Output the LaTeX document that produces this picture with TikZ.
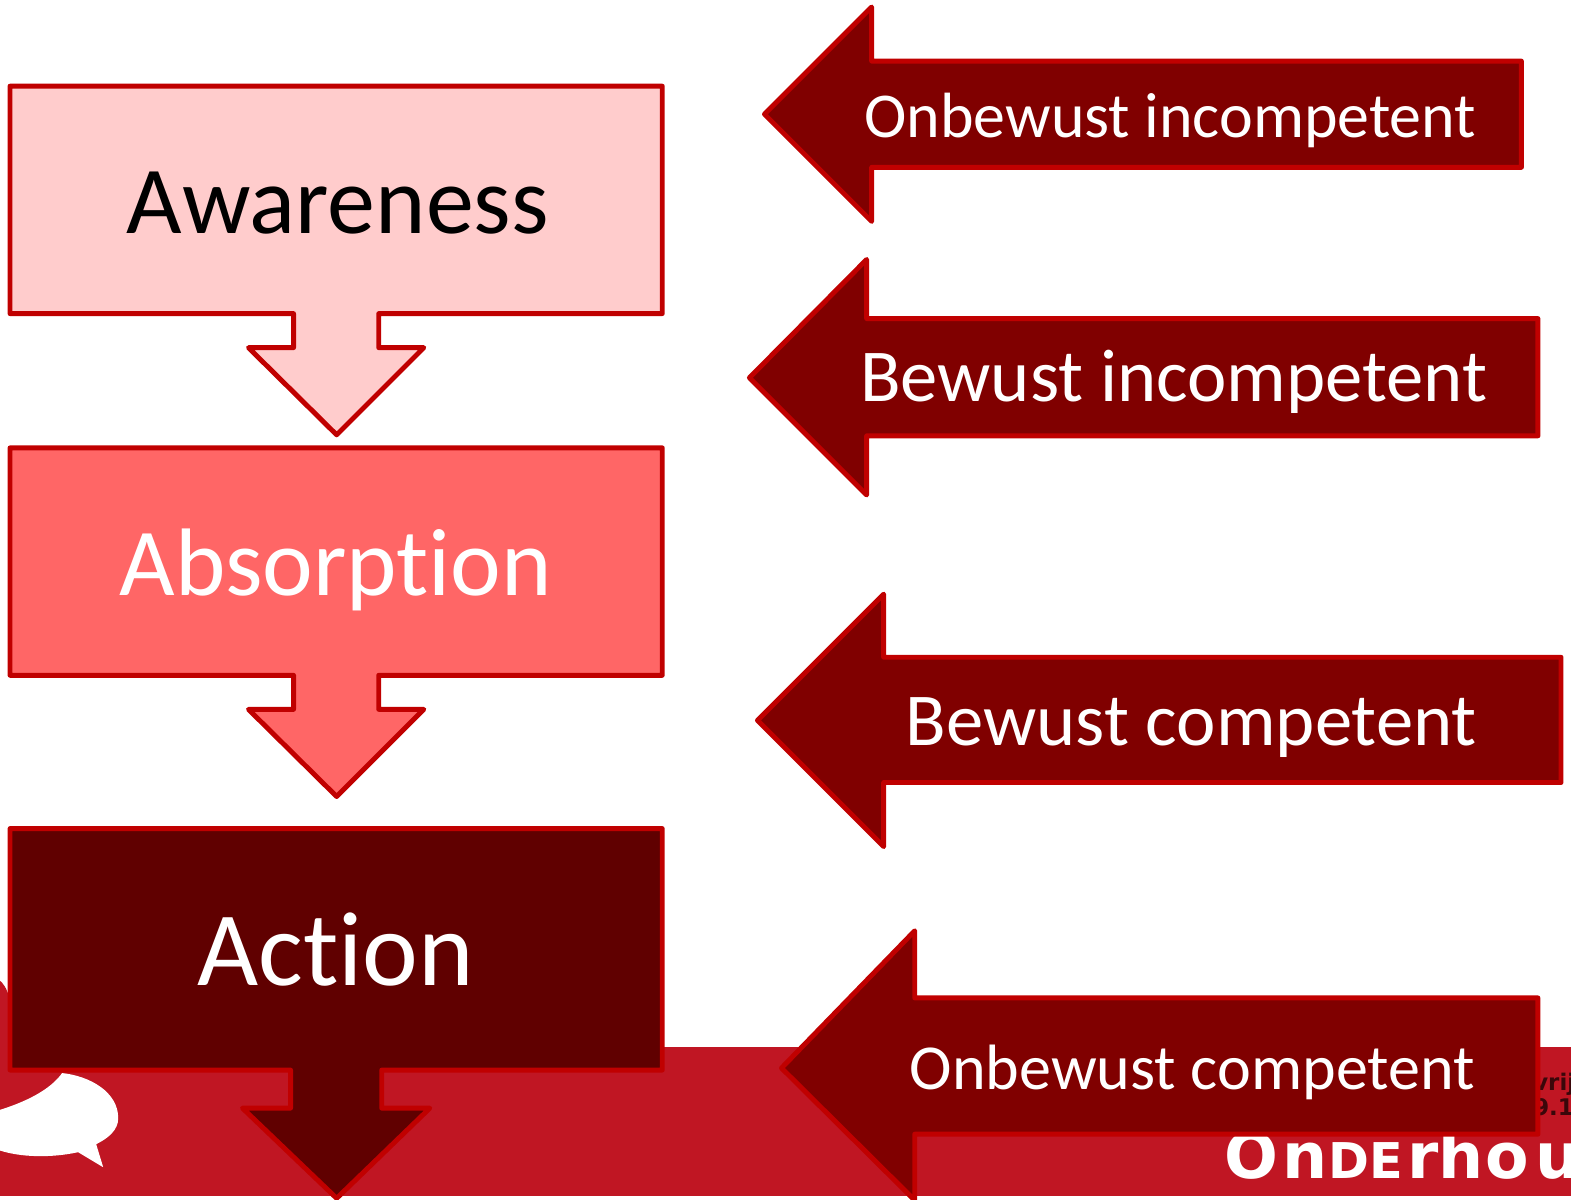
\documentclass[tikz,border=0pt]{standalone}
\usepackage{fontspec}
\setmainfont[Ligatures=NoCommon]{Carlito}
\newfontfamily\logofont{DejaVu Sans}
\definecolor{bandred}{HTML}{C01623}
\definecolor{edgered}{HTML}{C00000}
\definecolor{arrowred}{HTML}{800000}
\definecolor{lightpink}{HTML}{FFCCCC}
\definecolor{midpink}{HTML}{FF6666}
\definecolor{darkred}{HTML}{600000}
\tikzset{
    Shape/.style={draw=edgered,line width=2.8pt,line join=round},
    StepText/.style={font=\fontsize{54.5}{60}\selectfont,anchor=base,inner sep=0pt},
    ArrowText/.style={font=\fontsize{#1}{40}\selectfont,text=white,anchor=base,inner sep=0pt},
    LogoText/.style={anchor=base west,inner sep=0pt,text=white,font=\logofont\bfseries\fontsize{36}{36}\selectfont},
    SmallText/.style={anchor=base west,inner sep=0pt,text=black!70!bandred,font=\logofont\bfseries\fontsize{13}{13}\selectfont},
}
% box with an arrow below it: top, bottom, head y, tip y, stem left/right, head left/right
\newcommand{\stepbox}[9]{\draw[Shape,fill=#1] (11,#2) -- (662,#2) -- (662,#3) -- (#7,#3) -- (#7,#4) -- (#9,#4) -- (337,#5) -- (#8,#4) -- (#6,#4) -- (#6,#3) -- (11,#3) -- cycle;}
% arrow pointing left: tip x, tip y, head x, head top, head bottom, shaft top, shaft bottom, right end
\newcommand{\leftarrowshape}[8]{\draw[Shape,fill=arrowred] (#1,#2) -- (#3,#4) -- (#3,#6) -- (#8,#6) -- (#8,#7) -- (#3,#7) -- (#3,#5) -- cycle;}
\begin{document}
\begin{tikzpicture}[x=0.02cm,y=-0.02cm]
    \useasboundingbox (1,1) rectangle (1569,1198);
    \clip (1,1) rectangle (1569,1198);
    % background band
    \fill[bandred] (0,1046) rectangle (1570,1195);
    \fill[bandred] (0,979) .. controls (8,985) and (15,999) .. (15,1050) -- (0,1050) -- cycle;
    \fill[white] (63,1072) .. controls (91,1075) and (119,1091) .. (119,1117) .. controls (119,1129) and (109,1137) .. (97,1143) -- (104,1166) -- (79,1151) .. controls (51,1157) and (21,1156) .. (0,1149) -- (0,1109) .. controls (26,1101) and (51,1089) .. (63,1072) -- cycle;
    \node[LogoText] (logo) at (1223,1177) {O\kern2pt n\kern1pt{\fontsize{28}{28}\selectfont DE}\kern2pt rh\kern1pt o\kern4pt u};
    \node[SmallText] (logoa) at (1531,1089) {vrij};
    \node[SmallText] (logob) at (1531,1114) {9.1};
    % left column
    \stepbox{lightpink}{87}{314}{348}{435}{294}{379}{249}{424}
    \stepbox{midpink}{448}{675}{709}{796}{294}{379}{249}{424}
    \stepbox{darkred}{828}{1069}{1107}{1197}{291}{382}{243}{430}
    \node[StepText,text=black] (awareness) at (338,234) {Awareness};
    \node[StepText,text=white] (absorption) at (336,595) {Absorption};
    \node[StepText,text=white,font=\fontsize{60}{60}\selectfont] (action) at (336,985) {Action};
    % right column
    \leftarrowshape{764}{115}{871}{8}{222}{62}{168}{1519.5}
    \leftarrowshape{749}{378}{866}{260}{495}{319}{436}{1536}
    \leftarrowshape{757}{720}{883}{594}{846}{657}{782}{1559}
    \leftarrowshape{781}{1067}{914}{930}{1199}{997}{1133}{1536}
    \node[ArrowText=36.3] (onbinc) at (1169,138) {Onbewust incompetent};
    \node[ArrowText=42.4] (bewinc) at (1172.5,402) {Bewust incompetent};
    \node[ArrowText=42.4] (bewcomp) at (1190,745) {Bewust competent};
    \node[ArrowText=36.4] (onbcomp) at (1191,1088) {Onbewust competent};
\end{tikzpicture}
\end{document}
